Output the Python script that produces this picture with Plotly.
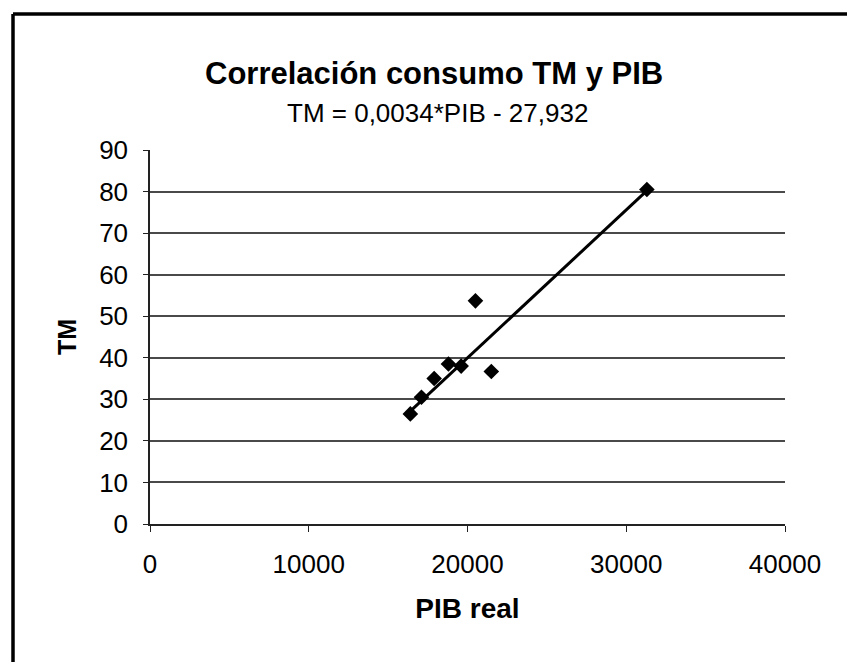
import plotly.graph_objects as go

pib = [16400, 17100, 17900, 18800, 19600, 20500, 21500, 31300]
tm = [26.5, 30.5, 35.0, 38.5, 38.0, 53.7, 36.7, 80.5]

# Trend line as drawn in the chart (endpoints)
trend_x = [16350, 31300]
trend_y = [27.0, 80.2]

title_text = "Correlación consumo TM y PIB"
subtitle_text = "TM = 0,0034*PIB - 27,932"
x_title = "PIB real"
y_title = "TM"
x_ticks = [0, 10000, 20000, 30000, 40000]
y_ticks = [0, 10, 20, 30, 40, 50, 60, 70, 80, 90]

FONT = "Arial, Liberation Sans, sans-serif"

fig = go.Figure()
fig.add_trace(go.Scatter(x=trend_x, y=trend_y, mode="lines",
                         line=dict(color="black", width=3), showlegend=False))
fig.add_trace(go.Scatter(x=pib, y=tm, mode="markers",
                         marker=dict(symbol="diamond", size=12, color="black"),
                         showlegend=False))

W, H = 847, 662
L, R, T, B = 150, 62, 150, 138
pw, ph = W - L - R, H - T - B

def px_to_paper_x(px):
    return (px - L) / pw

def px_to_paper_y(py):
    return (H - B - py) / ph

fig.update_layout(
    width=W, height=H,
    margin=dict(l=L, r=R, t=T, b=B, autoexpand=False),
    paper_bgcolor="white", plot_bgcolor="white",
    font=dict(family=FONT, color="black", size=26),
    xaxis=dict(range=[0, 40000], tickvals=x_ticks, tickformat="d",
               ticks="outside", ticklen=6,
               tickcolor="#222", showline=True, linecolor="#222", linewidth=1.5,
               showgrid=False, zeroline=False, ticklabelstandoff=10,
               tickfont=dict(size=26),
               title=dict(text="<b>" + x_title + "</b>", standoff=20,
                          font=dict(size=28))),
    yaxis=dict(range=[0, 90], tickvals=y_ticks, ticks="outside", ticklen=5,
               tickcolor="#222", showline=True, linecolor="#222", linewidth=1.5,
               showgrid=True, gridcolor="#4a4a4a", gridwidth=1.5, zeroline=False,
               ticklabelstandoff=10, tickfont=dict(size=26),
               title=dict(text="<b>" + y_title + "</b>", standoff=15,
                          font=dict(size=25))),
    annotations=[
        dict(text="<b>" + title_text + "</b>", xref="paper", yref="paper",
             x=px_to_paper_x(434), y=px_to_paper_y(73), showarrow=False,
             xanchor="center", yanchor="middle", font=dict(size=31)),
        dict(text=subtitle_text, xref="paper", yref="paper",
             x=px_to_paper_x(437), y=px_to_paper_y(113), showarrow=False,
             xanchor="center", yanchor="middle", font=dict(size=26)),
    ],
    shapes=[
        dict(type="line", xref="paper", yref="paper",
             x0=px_to_paper_x(13), x1=px_to_paper_x(W + 5),
             y0=px_to_paper_y(14), y1=px_to_paper_y(14),
             line=dict(color="black", width=3.5)),
        dict(type="line", xref="paper", yref="paper",
             x0=px_to_paper_x(13), x1=px_to_paper_x(13),
             y0=px_to_paper_y(14), y1=px_to_paper_y(H + 5),
             line=dict(color="black", width=3.5)),
    ],
)

fig.write_html("out.html", config={"displayModeBar": False},
               post_script="document.body.style.margin='0px';document.body.style.overflow='hidden';")
